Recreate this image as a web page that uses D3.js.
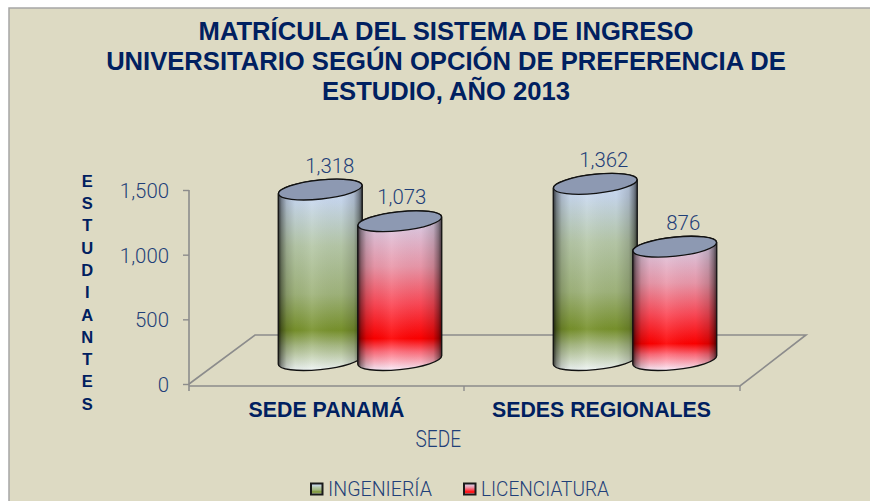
<!DOCTYPE html>
<html><head><meta charset="utf-8">
<script src="https://cdn.jsdelivr.net/npm/d3@7/dist/d3.min.js"></script>
<style>
html,body{margin:0;padding:0;background:#fff;overflow:hidden}
svg{display:block}
</style></head><body><svg id="c" width="870" height="501"></svg>
<script>
const titleLines=["MATRÍCULA DEL SISTEMA DE INGRESO","UNIVERSITARIO SEGÚN OPCIÓN DE PREFERENCIA DE","ESTUDIO, AÑO 2013"];
const categories=["SEDE PANAMÁ","SEDES REGIONALES"];
const seriesNames=["INGENIERÍA","LICENCIATURA"];
const ingenieria=[1318,1362];
const licenciatura=[1073,876];
const tickValues=[0,500,1000,1500];
const yLetters="ESTUDIANTES".split("");
const xTitle="SEDE";

const navy="#002060",blue="#1f3f78",grey="#8c8c8c";
const bold="'Liberation Sans',Arial,sans-serif",light="Roboto,sans-serif";
const svg=d3.select("#c");
const defs=svg.append("defs");

svg.append("rect").attr("x",9).attr("y",8).attr("width",870).attr("height",510)
  .attr("fill","#dddac3").attr("stroke","#a6a6a6").attr("stroke-width",1.5);

function grad(id,stops){
  const g=defs.append("linearGradient").attr("id",id).attr("x1",0).attr("y1",0).attr("x2",0).attr("y2",1);
  stops.forEach(s=>g.append("stop").attr("offset",s[0]).attr("stop-color",s[1]));
}
grad("g0",[[0,"#d0e0ff"],[.12,"#c8d8ec"],[.35,"#b6c8a8"],[.6,"#a0b47c"],[.79,"#78922c"],[.87,"#a8ba84"],[1,"#f0f6f6"]]);
grad("g1",[[0,"#dcdcf8"],[.12,"#e0c4dc"],[.35,"#ea98aa"],[.58,"#fc4a58"],[.8,"#ff0000"],[.88,"#ff6a78"],[1,"#faeefc"]]);
const shade=defs.append("linearGradient").attr("id","shade");
[[0,"#000",.75],[.04,"#000",.42],[.1,"#000",.16],[.2,"#000",.03],[.4,"#fff",.08],[.75,"#000",.02],[.9,"#000",.16],[.96,"#000",.42],[1,"#000",.7]]
 .forEach(s=>shade.append("stop").attr("offset",s[0]).attr("stop-color",s[1]).attr("stop-opacity",s[2]));

svg.append("g").selectAll("text").data(titleLines).join("text")
  .attr("x",446).attr("y",(d,i)=>40+i*30).attr("text-anchor","middle")
  .attr("font-family",bold).attr("font-weight","bold").attr("font-size",25.6).attr("fill",navy).text(d=>d);

const y=d3.scaleLinear().domain([0,1500]).range([384,190]);
const x=d3.scaleBand().domain(categories).range([190,740]);
const sx=d3.scaleBand().domain(seriesNames).range([-79.5,79.5]);

// floor
const fl=svg.append("g").attr("fill","none").attr("stroke",grey).attr("stroke-width",1.6);
fl.append("path").attr("d",d3.line()([[x.range()[0]-1,y(0)],[255,335],[806,335],[x.range()[1],y(0)+2],[x.range()[0]-1,y(0)+2]]));

// y axis
const ax=svg.append("g").attr("transform","translate(189,0)")
  .call(d3.axisLeft(y).tickValues(tickValues).tickFormat(d3.format(",")).tickSize(6).tickPadding(14));
ax.select(".domain").attr("stroke",grey).attr("stroke-width",1.6).attr("d",`M0,${y(1500)}V${y(0)+7}`);
ax.selectAll(".tick line").attr("stroke",grey).attr("stroke-width",1.4);
ax.selectAll("text").attr("y",1).attr("font-family",light).attr("font-weight",300).attr("font-size",20.4).attr("fill",blue);

// x ticks between and after the categories
svg.append("g").selectAll("line").data([x(categories[1])-1,x.range()[1]]).join("line")
  .attr("x1",d=>d).attr("x2",d=>d).attr("y1",y(0)+2).attr("y2",y(0)+7)
  .attr("stroke",grey).attr("stroke-width",1.4);

// cylinders
const rx=42,ry=9.5,rot=-6,tilt=4.2,depth=32.5,base=y(0)-24;
const labelDx=[[9.5,2],[8.5,8.5]];
function cyl(cat,name,v,i,k){
  const cx=x(cat)+x.bandwidth()/2+depth+sx(name)+sx.bandwidth()/2;
  const topY=base-(y(0)-y(v));
  const g=svg.append("g");
  const body=`M${cx-rx},${topY+tilt}L${cx-rx},${base+tilt}A${rx},${ry} ${rot} 0 0 ${cx+rx},${base-tilt}L${cx+rx},${topY-tilt}A${rx},${ry} ${rot} 0 0 ${cx-rx},${topY+tilt}Z`;
  g.append("path").attr("d",body).attr("fill",`url(#g${i})`);
  g.append("path").attr("d",body).attr("fill","url(#shade)").attr("stroke","#111").attr("stroke-width",1.3);
  g.append("ellipse").attr("cx",cx).attr("cy",topY).attr("rx",rx).attr("ry",ry)
    .attr("transform",`rotate(${rot} ${cx} ${topY})`).attr("fill","#8d99b2").attr("stroke","#111").attr("stroke-width",1.3);
  g.append("text").attr("x",cx+labelDx[k][i]).attr("y",topY-17).attr("text-anchor","middle")
    .attr("font-family",light).attr("font-weight",300).attr("font-size",20.4).attr("fill",blue).text(d3.format(",")(v));
}
categories.forEach((c,k)=>{
  cyl(c,seriesNames[0],ingenieria[k],0,k);
  cyl(c,seriesNames[1],licenciatura[k],1,k);
});

// category labels
svg.append("g").selectAll("text").data(categories).join("text")
  .attr("x",d=>x(d)+x.bandwidth()/2-1).attr("y",417).attr("text-anchor","middle")
  .attr("font-family",bold).attr("font-weight","bold").attr("font-size",21.3).attr("fill",navy).text(d=>d);

// axis titles
svg.append("text").attr("x",415.5).attr("y",447)
  .attr("textLength",45.5).attr("lengthAdjust","spacingAndGlyphs")
  .attr("font-family",light).attr("font-weight",300).attr("font-size",23).attr("fill",blue).text(xTitle);
svg.append("g").selectAll("text").data(yLetters).join("text")
  .attr("x",87.3).attr("y",(d,i)=>186.7+i*22.3).attr("text-anchor","middle")
  .attr("font-family",bold).attr("font-weight","bold").attr("font-size",16.5).attr("fill",navy).text(d=>d);

// legend
const lx=[311,464],lw=[104,128];
const lg=svg.append("g").selectAll("g").data(seriesNames).join("g")
  .attr("transform",(d,i)=>`translate(${lx[i]},483.5)`);
lg.append("rect").attr("width",11.5).attr("height",11).attr("fill",(d,i)=>`url(#g${i})`).attr("stroke","#1a1a1a").attr("stroke-width",2);
lg.append("text").attr("x",17).attr("y",12.5)
  .attr("textLength",(d,i)=>lw[i]).attr("lengthAdjust","spacingAndGlyphs")
  .attr("font-family",light).attr("font-weight",300).attr("font-size",21).attr("fill",blue).text(d=>d);
</script></body></html>
